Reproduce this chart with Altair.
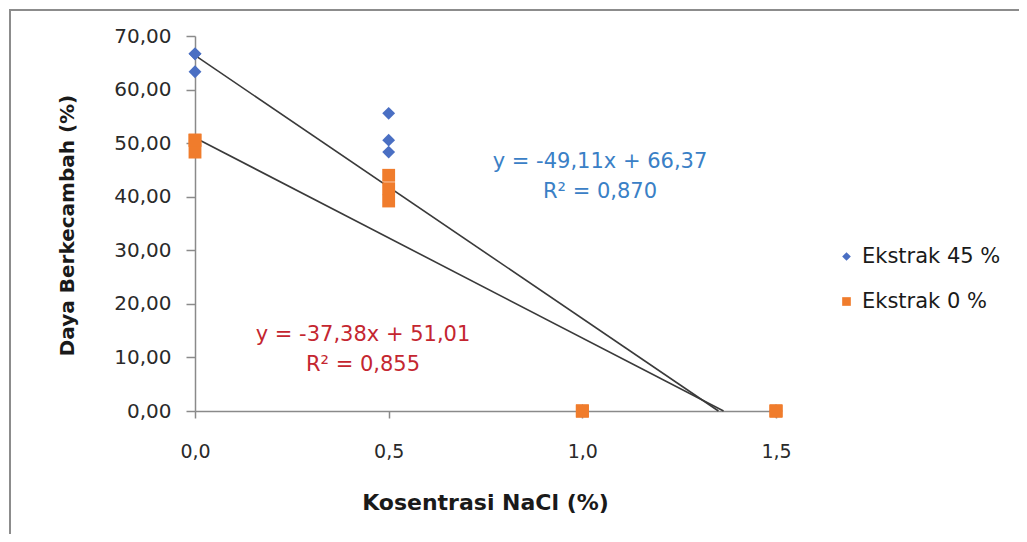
import altair as alt
import pandas as pd

# ---- data ----
series_names = ["Ekstrak 45 %", "Ekstrak 0 %"]

x_45 = [0.0, 0.0, 0.0, 0.5, 0.5, 0.5, 1.0, 1.0, 1.0, 1.5, 1.5, 1.5]
y_45 = [66.67, 66.67, 63.33, 55.56, 50.56, 48.33, 0.0, 0.0, 0.0, 0.0, 0.0, 0.0]

x_0 = [0.0, 0.0, 0.0, 0.5, 0.5, 0.5, 1.0, 1.0, 1.0, 1.5, 1.5, 1.5]
y_0 = [50.56, 48.33, 50.56, 44.0, 41.5, 39.2, 0.0, 0.0, 0.0, 0.0, 0.0, 0.0]

slopes = [-49.11, -37.38]
intercepts = [66.37, 51.01]
r_squared = [0.870, 0.855]

x_ticks = [0.0, 0.5, 1.0, 1.5]
y_ticks = [0, 10, 20, 30, 40, 50, 60, 70]

# ---- tables ----
points = pd.DataFrame(
    {"x": x_45 + x_0,
     "y": y_45 + y_0,
     "series": [series_names[0]] * len(x_45) + [series_names[1]] * len(x_0)}
)

line_rows = []
for name, m, b in zip(series_names, slopes, intercepts):
    line_rows.append({"series": name, "x": 0.0, "y": b})
    line_rows.append({"series": name, "x": -b / m, "y": 0.0})
lines = pd.DataFrame(line_rows)


def eq_text(m, b):
    return f"y = {m:.2f}x + {b:.2f}".replace(".", ",")


def r2_text(r):
    return f"R\u00b2 = {r:.3f}".replace(".", ",")


FONT = "DejaVu Sans"
AXIS_GREY = "#8a8a8a"

xscale = alt.Scale(domain=[0, 1.5], nice=False, zero=False)
yscale = alt.Scale(domain=[0, 70], nice=False)

x_axis = alt.Axis(
    values=x_ticks,
    labelExpr="replace(format(datum.value, '.1f'), '.', ',')",
    labelFlush=False,
    title="Kosentrasi NaCl (%)",
    titleX=290, titleY=91, titleAnchor="middle", titleAlign="center",
    titleBaseline="middle",
    titleFont=FONT, titleFontSize=22, titleFontWeight="bold", titleColor="#1a1a1a",
    labelFont=FONT, labelFontSize=19, labelColor="#2a2a2a",
    labelPadding=24, tickSize=7, tickColor=AXIS_GREY, tickWidth=1.5,
    domainColor=AXIS_GREY, domainWidth=1.5, grid=False,
)
y_axis = alt.Axis(
    values=y_ticks,
    labelExpr="replace(format(datum.value, '.2f'), '.', ',')",
    title="Daya Berkecambah (%)",
    titleX=-128, titleY=189, titleAngle=270, titleAlign="center",
    titleBaseline="middle",
    titleFont=FONT, titleFontSize=20, titleFontWeight="bold", titleColor="#1a1a1a",
    labelFont=FONT, labelFontSize=20, labelColor="#2a2a2a",
    labelPadding=15, tickSize=9, tickColor=AXIS_GREY, tickWidth=1.5,
    domainColor=AXIS_GREY, domainWidth=1.5, grid=False,
)

legend = alt.Legend(
    title=None, orient="none", legendX=641, legendY=210,
    labelFont=FONT, labelFontSize=21, labelColor="#1a1a1a",
    symbolSize=75, labelOffset=5, rowPadding=23, padding=0,
)

border = alt.Chart(pd.DataFrame({"k": [0]})).mark_rect(
    filled=False, stroke="#8c8c8c", strokeWidth=2
).encode(
    x=alt.value(-185), x2=alt.value(2000), y=alt.value(-26), y2=alt.value(2000)
)

trend = alt.Chart(lines).mark_line(color="#3a3a3a", strokeWidth=1.6).encode(
    x=alt.X("x:Q", scale=xscale, axis=x_axis),
    y=alt.Y("y:Q", scale=yscale, axis=y_axis),
    detail="series:N",
)

pts = alt.Chart(points).mark_point(filled=True, opacity=1, size=165).encode(
    x=alt.X("x:Q", scale=xscale),
    y=alt.Y("y:Q", scale=yscale),
    color=alt.Color(
        "series:N",
        scale=alt.Scale(domain=series_names, range=["#4a6fc3", "#f07c2c"]),
        legend=legend,
    ),
    shape=alt.Shape(
        "series:N",
        scale=alt.Scale(domain=series_names, range=["diamond", "square"]),
        legend=legend,
    ),
    order=alt.Order("ord:Q"),
).transform_calculate(ord=f"datum.series == '{series_names[1]}' ? 1 : 0")

text_blue = alt.Chart(pd.DataFrame({"t": [eq_text(slopes[0], intercepts[0]), r2_text(r_squared[0])],
                                    "py": [126, 156]})).mark_text(
    font=FONT, fontSize=21, color="#3a80c6", align="center", baseline="middle"
).encode(x=alt.value(405), y=alt.Y("py:Q", scale=None), text="t:N")

text_red = alt.Chart(pd.DataFrame({"t": [eq_text(slopes[1], intercepts[1]), r2_text(r_squared[1])],
                                   "py": [299, 329]})).mark_text(
    font=FONT, fontSize=21, color="#c42630", align="center", baseline="middle"
).encode(x=alt.value(168), y=alt.Y("py:Q", scale=None), text="t:N")

chart = alt.layer(border, trend, pts, text_blue, text_red).properties(
    width=581, height=375,
    autosize=alt.AutoSizeParams(type="none"),
    padding={"left": 187, "top": 28, "right": 243, "bottom": 123},
    background="white",
).configure_view(stroke=None)

chart.save("out.html", embed_options={"renderer": "svg", "actions": False})
